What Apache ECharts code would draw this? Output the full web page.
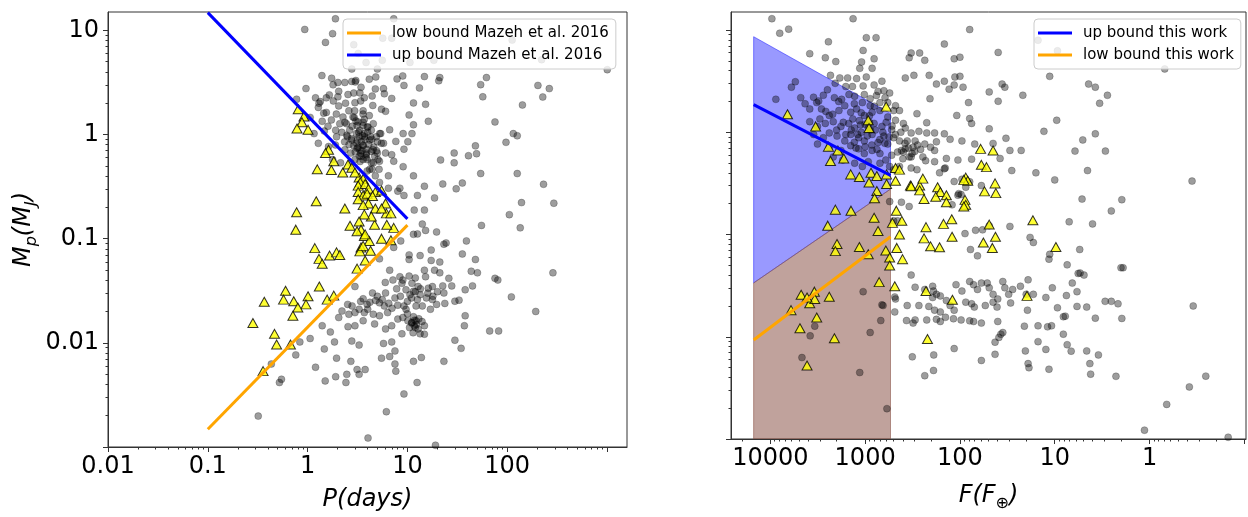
<!DOCTYPE html>
<html><head><meta charset="utf-8">
<script src="https://cdn.jsdelivr.net/npm/echarts@6/dist/echarts.min.js"></script>
<style>html,body{margin:0;padding:0;background:#fff}#c{width:1248px;height:517px}</style>
</head><body><div id="c"></div>
<script>
// ---------- tick labels ----------
const periodTickLabels = [0.01, 0.1, 1, 10, 100];
const periodMajorTicks = [0.01, 0.1, 1, 10, 100, 1000];
const massTickLabels = [0.01, 0.1, 1, 10];
const massMajorTicks = [0.001, 0.01, 0.1, 1, 10];
const fluxTickLabels = [10000, 1000, 100, 10, 1];
const fluxMajorTicks = [10000, 1000, 100, 10, 1, 0.1];

// ---------- boundary lines ----------
const mazehLower = [[0.1, 0.00148], [10, 0.135]];
const mazehUpper = [[0.1, 14.8], [10, 0.155]];
const thisWorkUpper = [[15000, 1.86], [540, 0.378]];
const thisWorkLower = [[15000, 0.0093], [540, 0.095]];
const upperBand = [[15000, 8.6], [540, 1.53], [540, 0.278], [15000, 0.0336]];
const lowerBand = [[15000, 0.0336], [540, 0.278], [540, 0.001], [15000, 0.001]];

// ---------- left panel: period vs mass ----------
const leftGray = [
[1.90,12.9],[7.29,12.9],[0.936,10.2],[1.78,9.30],[1.51,7.66],[2.90,7.29],[5.66,8.41],[6.96,8.41],[112,8.06],
[3.21,6.00],[3.85,4.91],[5.60,5.16],[10.6,4.91],[18.4,5.16],[221,5.23],[2.77,4.25],[5.00,4.25],[1005,4.19],
[1.39,3.68],[1.74,3.47],[2.01,3.16],[2.36,3.16],[2.77,3.23],[3.04,3.30],[3.43,2.84],[4.15,3.40],[4.82,3.57],
[5.76,2.76],[7.87,3.42],[8.98,3.65],[9.23,2.96],[14.8,3.60],[21.1,3.52],[20.6,3.28],[13.2,2.80],[54.2,3.01],
[61.9,3.52],[56.9,2.30],[203,2.96],[264,2.76],[227,2.29],[0.963,2.76],[0.776,2.18],[1.20,2.25],[1.34,2.07],
[1.54,2.25],[2.01,2.30],[1.81,2.10],[2.05,2.60],[2.54,2.42],[3.34,2.51],[3.70,2.25],[4.43,2.34],[4.77,2.74],
[5.87,2.46],[6.96,2.22],[11.5,2.01],[15.2,1.95],[142,1.92],[1.28,1.82],[1.54,1.63],[2.05,1.88],[2.59,1.69],
[2.98,2.02],[3.60,1.69],[4.15,1.52],[5.50,1.75],[6.04,1.67],[10.4,1.54],[11.5,1.24],[16.2,1.34],[75.4,1.32],
[1.06,1.46],[1.40,1.34],[1.73,1.38],[2.36,1.31],[2.93,1.46],[3.13,1.22],[3.60,1.31],[3.95,1.18],[4.55,1.27],
[5.40,1.02],[6.64,1.11],[9.06,1.02],[10.1,0.853],[11.1,1.02],[97.2,0.841],[115,1.02],[126,0.972],[1.16,1.02],
[1.47,1.08],[1.91,1.10],[2.47,0.985],[2.77,0.885],[3.28,0.951],[3.70,1.02],[4.27,0.951],[5.00,0.853],[5.76,0.823],
[7.65,0.859],[9.23,0.723],[21.5,0.570],[29.4,0.664],[40.9,0.626],[48.0,0.778],[49.3,0.654],[1.28,0.823],[1.62,0.766],
[1.90,0.794],[2.36,0.713],[2.71,0.664],[3.13,0.739],[3.43,0.618],[3.88,0.640],[4.35,0.688],[5.00,0.664],[6.04,0.664],
[6.96,0.640],[7.29,0.554],[9.06,0.491],[29.4,0.535],[126,0.422],[54.2,0.422],[1.78,0.574],[2.14,0.535],[2.71,0.535],
[2.98,0.574],[3.95,0.574],[4.55,0.535],[5.25,0.554],[4.43,0.463],[5.20,0.463],[6.45,0.401],[11.5,0.401],[14.8,0.319],
[22.6,0.335],[30.8,0.301],[35.5,0.342],[231,0.333],[3.95,0.447],[4.77,0.401],[5.25,0.347],[6.45,0.305],[8.40,0.305],
[9.23,0.260],[8.01,0.286],[12.6,0.260],[18.7,0.246],[139,0.222],[293,0.219],[105,0.170],[135,0.127],[55.2,0.134],
[11.7,0.188],[14.8,0.188],[14.1,0.138],[15.2,0.120],[19.6,0.116],[23.2,0.0885],[24.4,0.0910],[39.0,0.0951],[35.5,0.0713],
[48.0,0.0631],[43.6,0.0487],[50.3,0.0470],[75.4,0.0416],[80.5,0.0401],[287,0.0470],[12.6,0.111],[11.5,0.110],[8.57,0.0951],
[7.29,0.0824],[17.3,0.0778],[13.4,0.0688],[10.4,0.0698],[10.4,0.0631],[5.25,0.0640],[17.3,0.0618],[21.1,0.0596],
[2.98,0.0347],[2.52,0.0234],[2.79,0.0226],[3.28,0.0210],[3.95,0.0234],[4.47,0.0301],[5.00,0.0280],[5.25,0.0242],
[6.04,0.0301],[5.87,0.0226],[7.16,0.0401],[6.64,0.0498],[8.40,0.0431],[8.81,0.0373],[10.4,0.0437],[11.1,0.0373],
[12.8,0.0347],[14.8,0.0498],[15.2,0.0431],[16.2,0.0335],[17.8,0.0347],[18.7,0.0498],[21.1,0.0470],[22.6,0.0352],
[26.0,0.0416],[23.2,0.0301],[27.8,0.0352],[32.9,0.0257],[37.9,0.0323],[44.9,0.0352],[110,0.0276],[193,0.0200],
[66.7,0.0130],[82.0,0.0130],[9.68,0.0323],[10.6,0.0290],[11.5,0.0312],[13.4,0.0290],[12.6,0.0260],[15.5,0.0270],
[17.8,0.0260],[19.6,0.0234],[23.7,0.0239],[29.9,0.0251],[17.0,0.0210],[14.1,0.0226],[12.2,0.0226],[9.68,0.0210],
[9.23,0.0226],[2.21,0.0202],[2.59,0.0188],[2.98,0.0195],[3.70,0.0195],[4.55,0.0188],[5.25,0.0182],[6.33,0.0195],
[8.01,0.0169],[10.1,0.0163],[11.1,0.0157],[12.2,0.0163],[11.7,0.0146],[12.8,0.0136],[14.8,0.0146],[13.4,0.0122],
[14.8,0.0121],[6.96,0.0146],[6.04,0.0136],[4.69,0.0152],[3.60,0.0163],[2.98,0.0146],[2.54,0.0143],[2.05,0.0175],
[1.86,0.0102],[2.77,0.0104],[3.28,0.00951],[5.76,0.00986],[6.96,0.0102],[7.50,0.00836],[8.81,0.0122],[11.4,0.0125],
[34.5,0.00885],[29.9,0.0106],[37.2,0.0146],[37.9,0.0182],[1.40,0.0146],[1.69,0.0127],[0.836,0.0102],[1.06,0.0110],
[0.761,0.00766],[1.47,0.00873],[1.95,0.00713],[2.71,0.00664],[2.47,0.00498],[3.28,0.00498],[3.13,0.00554],[3.77,0.00554],
[11.5,0.00664],[13.8,0.00723],[23.2,0.00664],[7.50,0.00626],[6.64,0.00739],[5.50,0.00713],[1.20,0.00583],[0.522,0.00416],
[0.547,0.00447],[1.50,0.00431],[1.91,0.00473],[2.42,0.00416],[7.65,0.00535],[9.23,0.00323],[12.5,0.00416],[0.32,0.00198],
[6.15,0.00218],[4.03,0.00122],[19.1,0.00104],[0.433,0.00626],
[2.85,1.47],[3.20,1.32],[3.59,1.22],[4.03,1.18],[4.35,1.10],[3.33,1.10],[3.08,1.02],[3.73,0.951],[4.19,0.885],
[3.59,0.794],[3.33,0.714],[3.88,0.664],[4.52,0.714],[4.70,0.618],[3.59,0.575],[4.35,0.535],[4.88,0.951],[5.27,1.02],
[5.48,0.824],[2.45,1.27],[2.64,1.10],[2.26,1.47],[2.96,1.69],[3.59,1.57],[1.94,1.57],[2.10,1.27],[5.07,0.575],
[4.19,0.463],[3.08,0.824],[2.75,0.917],
[3.3,0.62],[3.4,0.66],[3.5,0.70],[3.2,0.75],[3.6,0.78],[3.45,0.85],[3.75,0.90],[3.9,0.72],[4.1,0.80],[3.0,0.68],
[2.9,0.78],[3.15,0.88],[3.55,0.98],[4.0,1.05],[3.85,0.60],[3.25,1.05],[2.8,1.20],[3.05,1.35],[3.7,1.40],[4.4,0.90],
[4.6,0.76],[2.6,0.80],[2.5,0.95],[4.9,0.70],[3.35,0.55],[2.2,1.05],[2.35,0.85],[1.95,0.95],[1.6,1.20],[1.45,1.6],
[1.3,2.0],[1.65,2.4],[2.4,2.0],[2.9,2.5],[3.4,2.1],[4.5,1.9],[1.8,3.0],[3.0,3.2],
[11.0,0.0155],[11.8,0.0165],[12.3,0.0150],[10.5,0.0140],[13.0,0.0170],[11.5,0.0178],[12.0,0.0140],[10.0,0.0190],
[9.0,0.0175],[14.0,0.0160],[4.2,0.0245],[4.8,0.0255],[3.6,0.0265],[4.0,0.0210],[3.4,0.0250],[5.6,0.0260],[6.5,0.0240],
[7.0,0.0215],[8.0,0.0230],[7.5,0.0270],[8.5,0.0280],[10.0,0.0250],[11.0,0.0270],[12.0,0.0310],[13.5,0.0330],[16.0,0.0300],
[18.0,0.0280],[20.0,0.0310],[9.0,0.0400],[12.0,0.0420],[6.0,0.0380],[7.8,0.0330]
];
const leftTriangles = [
[0.805,1.75],[0.919,1.49],[0.877,1.31],[0.783,1.14],[1.01,1.11],[1.62,0.713],[1.51,0.664],[1.83,0.554],[1.25,0.463],
[1.73,0.456],[2.25,0.431],[2.54,0.516],[2.77,0.480],[3.28,0.387],[3.60,0.373],[2.98,0.431],[3.37,0.347],[3.21,0.323],
[3.77,0.335],[4.07,0.301],[3.21,0.280],[3.60,0.260],[3.95,0.270],[4.77,0.280],[5.50,0.290],[4.47,0.257],[3.21,0.239],
[4.07,0.218],[3.60,0.210],[6.04,0.218],[4.77,0.195],[6.15,0.175],[5.50,0.195],[6.83,0.175],[7.29,0.127],[6.21,0.136],
[4.69,0.136],[4.35,0.163],[3.70,0.171],[3.28,0.146],[2.66,0.133],[3.43,0.122],[3.70,0.106],[3.13,0.118],[4.15,0.0951],
[3.77,0.110],[5.50,0.100],[6.83,0.0965],[2.36,0.195],[1.22,0.229],[0.776,0.179],[0.761,0.122],[1.18,0.0811],[1.30,0.0640],
[1.40,0.0574],[1.66,0.0688],[1.95,0.0739],[2.10,0.0698],[3.43,0.0824],[3.34,0.0755],[3.60,0.0853],[4.27,0.0766],
[3.77,0.0618],[3.13,0.0516],[1.31,0.0347],[0.601,0.0316],[0.368,0.0248],[0.574,0.0260],[0.726,0.0251],[1.01,0.0280],
[0.963,0.0234],[0.798,0.0218],[0.712,0.0182],[1.57,0.0260],[1.83,0.0284],[0.283,0.0155],[0.466,0.0122],[0.489,0.00965],
[0.673,0.00965],[0.358,0.00535]
];

// ---------- right panel: flux vs mass ----------
const rightGray = [
[9630,12.9],[1340,12.9],[7960,9.30],[6410,10.2],[2440,7.66],[972,8.41],[767,8.41],[78.9,10.1],[15.0,7.94],[1050,6.31],
[3840,5.87],[2630,5.35],[1090,4.87],[804,5.23],[2040,4.91],[146,7.29],[39.5,6.04],[327,5.96],[266,5.96],[343,5.35],
[235,5.05],[115,5.23],[100,5.42],[9.36,6.26],[0.691,4.16],[2320,3.60],[1850,3.40],[1530,3.40],[1230,3.35],[972,3.47],
[665,3.16],[844,4.22],[1140,4.22],[2070,3.01],[1360,2.80],[1050,2.84],[804,2.90],[634,2.55],[551,2.42],[377,3.40],
[306,3.60],[211,3.60],[177,2.96],[146,3.16],[130,2.64],[113,3.47],[100,3.52],[115,2.90],[92.7,2.76],[49.1,2.48],
[35.9,2.96],[33.6,2.76],[21.7,2.30],[11.3,3.52],[4.39,2.96],[3.73,2.76],[3.36,1.92],[2.78,2.30],[5450,3.12],[5990,2.76],
[8750,2.10],[4780,2.18],[2760,2.30],[3090,2.02],[3240,1.95],[2110,2.18],[1770,2.10],[1480,2.34],[1290,2.25],[1020,2.34],
[885,2.13],[760,2.29],[617,2.18],[731,2.51],[1070,1.95],[885,1.82],[698,1.95],[577,1.95],[478,1.82],[207,2.13],
[81.2,1.95],[39.5,2.01],[3840,1.69],[2890,1.69],[2390,1.46],[1890,1.63],[1640,1.82],[1420,1.57],[1230,1.69],[1020,1.46],
[844,1.57],[698,1.63],[577,1.41],[501,1.63],[434,1.63],[284,1.52],[224,1.24],[185,0.985],[146,0.965],[108,1.46],
[78.9,1.36],[75.3,1.22],[49.1,1.08],[32.7,0.873],[13.0,1.02],[9.53,1.31],[5.06,0.841],[3.73,0.965],[6.11,0.654],[2.92,0.654],
[3840,1.27],[3180,1.14],[2630,1.22],[2170,1.27],[1800,1.14],[1490,1.22],[1290,1.10],[1120,1.18],[927,1.10],[804,1.22],
[665,1.14],[525,1.06],[478,1.31],[395,1.22],[377,1.10],[327,0.985],[271,1.02],[297,0.823],[235,0.766],[177,0.806],
[224,0.985],[127,0.853],[95.3,0.823],[69.8,0.766],[44.7,0.778],[29.7,0.664],[22.6,0.664],[15.8,0.401],[10.0,0.342],[4.51,0.422],
[3490,0.951],[2760,0.885],[2390,0.985],[1980,0.917],[1640,0.823],[1420,0.951],[1170,0.885],[1020,0.823],[844,0.951],[731,0.794],
[634,0.917],[577,0.766],[501,0.885],[434,0.823],[360,0.823],[414,0.664],[377,0.688],[327,0.574],[312,0.713],[246,0.574],
[185,0.664],[204,0.713],[139,0.554],[105,0.535],[75.3,0.546],[37.7,0.554],[28.4,0.422],[3180,0.766],[2390,0.713],[1800,0.664],
[1420,0.739],[1170,0.688],[1020,0.618],[844,0.664],[698,0.618],[605,0.535],[525,0.596],[455,0.640],[395,0.640],[343,0.574],
[230,0.527],[185,0.516],[146,0.440],[164,0.401],[115,0.330],[95.3,0.347],[78.9,0.328],[59.4,0.301],[103,0.251],[97.2,0.246],
[2170,0.574],[1720,0.535],[1290,0.498],[1070,0.463],[927,0.516],[698,0.498],[551,0.463],[501,0.431],[434,0.463],[327,0.447],
[284,0.431],[143,0.447],[551,0.210],[414,0.207],[343,0.188],[455,0.136],[501,0.136],[105,0.242],[86.8,0.290],[121,0.195],
[88.4,0.102],[68.4,0.110],[57.7,0.111],[77.4,0.0713],[65.3,0.0618],[49.1,0.122],[29.7,0.120],[18.2,0.0937],[16.8,0.0835],
[11.5,0.0574],[11.3,0.0640],[7.39,0.0505],[7.04,0.133],[5.45,0.0713],[5.15,0.222],[3.99,0.127],[2.53,0.170],[1.96,0.219],
[0.356,0.333],[2.00,0.0473],[1.90,0.0473],
[327,0.0401],[297,0.0305],[235,0.0290],[194,0.0312],[190,0.0280],[177,0.0260],[194,0.0242],[161,0.0251],[139,0.0226],
[110,0.0323],[95.3,0.0280],[78.9,0.0347],[71.8,0.0323],[65.3,0.0290],[59.4,0.0335],[51.5,0.0335],[49.1,0.0301],[44.7,0.0260],
[39.9,0.0234],[35.3,0.0347],[33.6,0.0301],[30.6,0.0260],[27.8,0.0290],[23.0,0.0312],[20.0,0.0260],[19.1,0.0360],[16.8,0.0260],
[12.4,0.0242],[10.6,0.0301],[9.36,0.0192],[7.53,0.0253],[6.53,0.0335],[5.82,0.0276],[5.66,0.0416],[5.40,0.0420],[4.91,0.0401],
[5.82,0.0198],[478,0.0234],[487,0.0245],[360,0.0202],[271,0.0202],[213,0.0198],[185,0.0182],[161,0.0175],[127,0.0202],
[115,0.0182],[86.8,0.0218],[75.3,0.0210],[70.5,0.0195],[54.0,0.0202],[44.7,0.0218],[40.6,0.0195],[29.2,0.0214],[19.4,0.0182],
[4.60,0.0195],[3.73,0.0152],[2.94,0.0222],[2.53,0.0222],[2.15,0.0210],[1.96,0.0151],[0.346,0.0200],[487,0.0175],[366,0.0144],
[312,0.0136],[297,0.0146],[224,0.0146],[177,0.0148],[161,0.0141],[142,0.0155],[117,0.0150],[97.2,0.0146],[78.9,0.0143],
[59.4,0.0136],[71.8,0.0141],[39.9,0.0141],[35.3,0.0110],[38.8,0.00986],[42.6,0.00885],[37.0,0.0106],[20.9,0.0127],[15.0,0.0128],
[11.9,0.0125],[10.8,0.0128],[8.11,0.0157],[7.74,0.0159],[15.0,0.00896],[12.4,0.00752],[8.11,0.0106],[7.39,0.00836],[6.71,0.00723],
[4.60,0.00727],[3.46,0.00664],[4.26,0.00546],[4.18,0.00431],[2.26,0.00410],[0.255,0.00412],[0.380,0.00323],[0.659,0.00218],
[1.13,0.00122],[0.148,0.00104],[318,0.00636],[189,0.00664],[235,0.00416],[190,0.00468],[115,0.00766],[59.4,0.00586],
[42.6,0.00673],[20.4,0.00727],[19.1,0.00546],[18.7,0.00498],[11.5,0.00481],[1050,0.0276],[665,0.0205],[647,0.0202],
[684,0.0144],[885,0.0110],[1140,0.00447],[589,0.00198],[3800,0.0102],[3400,0.0127],[4640,0.00626],
[1100,1.0],[950,0.92],[880,1.05],[1200,0.95],[1000,1.2],[1150,1.3],[900,1.25],[780,1.05],[700,0.85],[650,1.0],
[1300,0.80],[1400,1.05],[1600,0.95],[1250,0.70],[1000,0.72],[850,0.75],[750,0.68],[620,0.78],[560,0.90],[900,1.45],
[1100,1.55],[1350,1.35],[1700,1.25],[2000,1.05],[2200,1.5],[2600,1.6],[3000,1.35],[1900,2.0],[1300,1.9],[800,1.8],
[600,1.25],[520,1.15],[480,0.95],[420,1.0],[380,0.78],[350,0.70],[300,0.65],[280,0.75],[260,0.68],[400,0.55],
[320,0.62],[3500,2.2],[4300,1.9],[2500,2.6],[1600,2.8]
];
const rightTriangles = [
[6590,1.50],[3330,1.14],[927,1.31],[910,1.10],[600,1.78],[2440,0.723],[1940,0.664],[2320,0.523],[1680,0.554],[1420,0.387],
[1150,0.365],[867,0.401],[753,0.373],[910,0.323],[594,0.312],[594,0.387],[478,0.447],[434,0.431],[478,0.335],[333,0.301],
[327,0.297],[266,0.301],[246,0.352],[266,0.270],[172,0.290],[161,0.260],[180,0.234],[139,0.242],[139,0.207],[239,0.222],
[86.8,0.360],[82.7,0.335],[91.0,0.342],[88.4,0.218],[86.8,0.195],[91.0,0.188],[60.5,0.688],[44.7,0.664],[59.4,0.480],
[52.5,0.456],[55.0,0.264],[42.6,0.316],[41.8,0.254],[17.0,0.138],[9.72,0.0755],[753,0.266],[796,0.226],[2060,0.175],
[1410,0.171],[2480,0.122],[804,0.146],[731,0.108],[515,0.130],[469,0.171],[410,0.136],[434,0.100],[228,0.118],[239,0.0917],
[149,0.127],[122,0.141],[121,0.0951],[204,0.0766],[164,0.0750],[56.6,0.0835],[45.5,0.0739],[49.1,0.125],[42.2,0.0951],
[1980,0.0806],[2060,0.0688],[1150,0.0755],[927,0.0640],[605,0.0698],[551,0.0596],[464,0.0739],[551,0.0498],[403,0.0574],
[711,0.0342],[487,0.0312],[228,0.0280],[120,0.0230],[19.6,0.0251],[220,0.00951],[4730,0.0257],[3840,0.0213],[3430,0.0276],
[3400,0.0234],[2390,0.0246],[6050,0.0182],[4100,0.0242],[3240,0.0154],[4870,0.0121],[2110,0.00965],[4100,0.00523]
];

// ---------- chart ----------
const FONT = 'DejaVu Sans';
const AX = '#333';
const minorOf = (lo, hi) => { const out = []; for (let e = lo; e <= hi; e++) for (let m = 2; m <= 9; m++) out.push(Number((m * Math.pow(10, e)).toPrecision(3))); return out; };
const massMinor = minorOf(-3, 1).filter(v => v < 15);
const periodMinor = minorOf(-2, 3).filter(v => v < 1585);
const fluxMinor = minorOf(-2, 4).filter(v => v > 0.096 && v < 26000);
const fmt = v => String(Number(v.toPrecision(6)));

const richName = {
  m: { fontSize: 24, fontFamily: FONT, fontStyle: 'italic', color: '#000' },
  s: { fontSize: 16, fontFamily: FONT, fontStyle: 'italic', color: '#000', padding: [16, 0, 0, 0] },
  u: { fontSize: 16, fontFamily: FONT, color: '#000', padding: [16, 0, 0, 0] }
};

function xMain(grid, min, max, majors, labels, name, inverse) {
  return {
    type: 'log', logBase: 10, gridIndex: grid, min, max, inverse: !!inverse, position: 'bottom',
    axisLine: { show: true, lineStyle: { color: AX, width: 1 } },
    axisTick: { show: true, customValues: majors, length: 5, lineStyle: { color: AX } },
    axisLabel: { customValues: labels, formatter: fmt, fontSize: 24, fontFamily: FONT, color: '#000', margin: 8 },
    splitLine: { show: false },
    name, nameLocation: 'middle', nameGap: 41,
    nameTextStyle: { fontSize: 24, fontFamily: FONT, fontStyle: 'italic', color: '#000', rich: richName }
  };
}
function xMinor(grid, min, max, vals, inverse) {
  return {
    type: 'log', logBase: 10, gridIndex: grid, min, max, inverse: !!inverse, position: 'bottom',
    axisLine: { show: false }, axisLabel: { show: false }, splitLine: { show: false },
    axisTick: { show: true, customValues: vals, length: 2.5, lineStyle: { color: AX } }
  };
}
function yMain(grid, showLabels, name) {
  return {
    type: 'log', logBase: 10, gridIndex: grid, min: 0.001, max: 15, position: 'left',
    axisLine: { show: true, lineStyle: { color: AX, width: 1 } },
    axisTick: { show: true, customValues: massMajorTicks, length: 5, lineStyle: { color: AX } },
    axisLabel: { show: showLabels, customValues: massTickLabels, formatter: fmt, fontSize: 24, fontFamily: FONT, color: '#000', margin: 9 },
    splitLine: { show: false },
    name: name || '', nameLocation: 'middle', nameGap: 68, nameRotate: 90,
    nameTextStyle: { fontSize: 24, fontFamily: FONT, fontStyle: 'italic', color: '#000', rich: richName }
  };
}
function yMinor(grid) {
  return {
    type: 'log', logBase: 10, gridIndex: grid, min: 0.001, max: 15, position: 'left',
    axisLine: { show: false }, axisLabel: { show: false }, splitLine: { show: false },
    axisTick: { show: true, customValues: massMinor, length: 2.5, lineStyle: { color: AX } }
  };
}
function band(points, fill, stroke) {
  return {
    type: 'custom', xAxisIndex: 1, yAxisIndex: 1, z: 1, silent: true, clip: true,
    data: points,
    renderItem: (params, api) => {
      if (params.dataIndex !== 0) return null;
      return { type: 'polygon', shape: { points: points.map(p => api.coord(p)) }, style: { fill, stroke, lineWidth: 1 } };
    }
  };
}
const grayStyle = { color: 'rgba(0,0,0,0.48)', borderColor: 'rgba(0,0,0,0.35)', borderWidth: 0.8 };
const triStyle = { color: '#ffff00', borderColor: '#000', borderWidth: 1 };

const legendCommon = {
  orient: 'vertical', itemWidth: 34, itemHeight: 3, itemGap: 6, padding: [6, 7, 6, 4], z: 10,
  backgroundColor: 'rgba(255,255,255,0.8)', borderColor: '#cccccc', borderWidth: 1, borderRadius: 4,
  selectedMode: false, textStyle: { fontSize: 15, lineHeight: 16, fontFamily: FONT, color: '#000', padding: [0, 0, 0, 6] }
};
const legendItem = n => ({ name: n, icon: 'rect' });

const option = {
  animation: false,
  backgroundColor: '#fff',
  grid: [
    { left: 108, top: 12, width: 519, height: 445, show: true, borderColor: AX, borderWidth: 1, backgroundColor: 'transparent' },
    { left: 731, top: 12, width: 515, height: 445, show: true, borderColor: AX, borderWidth: 1, backgroundColor: 'transparent' }
  ],
  xAxis: [
    xMain(0, 0.01, 1585, periodMajorTicks, periodTickLabels, 'P(days)', false),
    xMain(1, 0.096, 26000, fluxMajorTicks, fluxTickLabels, '{m|F(F}{u|⊕}{m|)}', true),
    xMinor(0, 0.01, 1585, periodMinor, false),
    xMinor(1, 0.096, 26000, fluxMinor, true)
  ],
  yAxis: [
    yMain(0, true, '{m|M}{s|p}{m|(M}{s|J}{m|)}'),
    yMain(1, false, ''),
    yMinor(0),
    yMinor(1)
  ],
  legend: [
    Object.assign({}, legendCommon, { left: 343, top: 19, data: ['low bound Mazeh et al. 2016', 'up bound Mazeh et al. 2016'].map(legendItem) }),
    Object.assign({}, legendCommon, { left: 1034, top: 19, data: ['up bound this work', 'low bound this work'].map(legendItem) })
  ],
  series: [
    band(upperBand, 'rgba(0,0,255,0.4)', 'rgba(0,0,255,0.45)'),
    band(lowerBand, 'rgba(140,86,75,0.55)', 'rgba(140,86,75,0.6)'),
    { type: 'scatter', xAxisIndex: 0, yAxisIndex: 0, data: leftGray, symbol: 'circle', symbolSize: 7, itemStyle: grayStyle, z: 2, silent: true },
    { type: 'scatter', xAxisIndex: 0, yAxisIndex: 0, data: leftTriangles, symbol: 'triangle', symbolSize: [10, 9], itemStyle: triStyle, z: 3, silent: true },
    { type: 'line', name: 'low bound Mazeh et al. 2016', xAxisIndex: 0, yAxisIndex: 0, data: mazehLower, symbol: 'none', lineStyle: { color: '#ffa500', width: 3 }, itemStyle: { color: '#ffa500' }, z: 4, silent: true },
    { type: 'line', name: 'up bound Mazeh et al. 2016', xAxisIndex: 0, yAxisIndex: 0, data: mazehUpper, symbol: 'none', lineStyle: { color: '#0000ff', width: 3 }, itemStyle: { color: '#0000ff' }, z: 4, silent: true },
    { type: 'scatter', xAxisIndex: 1, yAxisIndex: 1, data: rightGray, symbol: 'circle', symbolSize: 7, itemStyle: grayStyle, z: 2, silent: true },
    { type: 'scatter', xAxisIndex: 1, yAxisIndex: 1, data: rightTriangles, symbol: 'triangle', symbolSize: [10, 9], itemStyle: triStyle, z: 3, silent: true },
    { type: 'line', name: 'up bound this work', xAxisIndex: 1, yAxisIndex: 1, data: thisWorkUpper, symbol: 'none', lineStyle: { color: '#0000ff', width: 3 }, itemStyle: { color: '#0000ff' }, z: 4, silent: true },
    { type: 'line', name: 'low bound this work', xAxisIndex: 1, yAxisIndex: 1, data: thisWorkLower, symbol: 'none', lineStyle: { color: '#ffa500', width: 3 }, itemStyle: { color: '#ffa500' }, z: 4, silent: true }
  ]
};
const chart = echarts.init(document.getElementById('c'), null, { renderer: 'canvas' });
chart.setOption(option);
</script></body></html>
